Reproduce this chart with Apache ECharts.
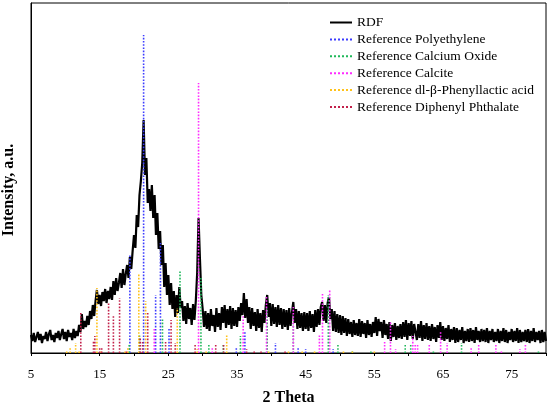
<!DOCTYPE html>
<html>
<head>
<meta charset="utf-8">
<script src="https://cdn.jsdelivr.net/npm/echarts@6/dist/echarts.min.js"></script>
<style>html,body{margin:0;padding:0;background:#fff}#c{width:550px;height:402px}</style>
</head>
<body>
<div id="c"></div>
<script>
// RDF pattern sampled every 0.2 degrees 2θ from 5.0 to 80.0 (intensity, a.u.)
const rdfStart = 5.0;
const rdfStep = 0.2;
const rdfIntensity = [
  18,12,20,11,16,21,13,19,10,17,
  14,21,12,19,23,13,18,11,20,15,
  22,13,19,24,14,21,12,23,16,20,
  13,24,15,22,17,28,21,39,24,32,
  26,37,28,42,34,48,37,52,63,49,
  58,47,61,52,64,50,62,54,66,53,
  72,58,75,62,70,80,65,84,68,79,
  88,75,96,84,102,118,105,138,126,158,
  172,190,233,178,195,150,164,142,168,135,
  158,118,140,104,122,88,108,66,90,58,
  78,48,70,44,62,36,58,40,66,45,
  52,32,47,29,50,34,45,28,49,33,
  52,80,135,95,58,44,26,42,24,40,
  22,44,27,38,21,45,26,40,23,46,
  30,48,25,44,28,47,24,45,27,43,
  26,46,32,50,38,60,35,54,30,46,
  24,45,27,41,22,44,25,40,21,43,
  30,48,58,36,50,27,49,29,46,26,
  48,28,45,24,44,26,43,23,45,27,
  40,51,30,44,24,42,25,40,22,41,
  24,40,22,42,25,39,21,43,26,44,
  28,46,51,32,48,30,50,56,34,44,
  22,42,21,39,20,38,18,37,20,35,
  17,34,19,31,16,33,18,30,17,34,
  16,32,19,30,15,33,18,29,16,31,
  20,36,17,34,22,31,15,33,18,29,
  14,31,12,28,16,30,13,27,15,29,
  14,31,16,33,13,30,17,32,14,29,
  31,13,29,15,32,12,28,14,30,13,
  27,12,29,14,26,11,28,15,31,13,
  27,12,25,14,28,11,24,13,26,10,
  25,11,23,13,26,10,22,12,24,11,
  25,12,23,10,26,13,22,11,24,12,
  23,11,25,10,22,13,24,11,21,12,
  24,10,22,12,25,11,23,10,21,13,
  24,11,22,12,25,10,23,11,21,12,
  23,11,24,10,22,12,25,11,21,13,
  22,10,23,11,21,12
];

// Reference stick patterns: positions (2θ) and relative heights
const pePos = [19.4, 21.4, 23.15, 23.85, 25.1, 34.9, 36.15, 40.6, 43.9, 45.0, 49.0];
const peInt = [98, 318, 58, 110, 25, 6, 22, 10, 6, 4, 4];

const caoPos = [19.3, 20.8, 24.15, 26.7, 29.75, 30.9, 33.0, 35.5, 39.4, 43.2, 48.3, 49.7, 51.8, 54.5, 59.5, 60.3, 63.6, 67.7, 78.9];
const caoInt = [9, 18, 34, 83, 75, 8, 9, 17, 45, 30, 58, 9, 3, 3, 8, 8, 3, 10, 2];

const calPos = [22.95, 29.4, 31.4, 35.9, 39.3, 43.2, 47.0, 47.45, 48.5, 56.5, 57.35, 58.1, 60.6, 60.95, 61.3, 63.0, 64.65, 65.6, 69.1, 70.2, 72.7, 73.5, 76.2, 77.0];
const calInt = [24, 270, 6, 38, 56, 46, 19, 59, 63, 11, 32, 4, 17, 9, 9, 8, 22, 10, 6, 8, 9, 2, 4, 9];

const plaPos = [10.2, 10.7, 11.5, 12.0, 14.6, 15.2, 18.7, 19.1, 20.7, 21.7, 26.3, 29.2, 30.5, 33.5, 39.6, 42.5, 44.5, 46.3, 50.5, 51.8, 55.0];
const plaInt = [3, 5, 10, 2, 65, 3, 3, 5, 79, 52, 45, 4, 3, 19, 2, 2, 2, 2, 2, 3, 2];

const dppPos = [12.25, 14.1, 14.3, 15.0, 15.3, 16.3, 17.0, 17.9, 18.9, 20.9, 21.25, 22.0, 24.6, 25.4, 26.0, 28.9, 31.9, 33.05, 36.4, 37.5, 38.5, 42.0];
const dppInt = [40, 12, 17, 6, 5, 51, 38, 55, 3, 15, 11, 41, 11, 33, 10, 9, 9, 9, 4, 3, 3, 2];

const seriesNames = ['RDF', 'Reference Polyethylene', 'Reference Calcium Oxide', 'Reference Calcite', 'Reference dl-\u03b2-Phenyllactic acid', 'Reference Diphenyl Phthalate'];
const seriesColors = ['#000000', '#3b3bff', '#1fb85a', '#ff2bff', '#ffc21a', '#c2204a'];

const rdfData = rdfIntensity.map((v, i) => [+(rdfStart + i * rdfStep).toFixed(1), v]);

function sticks(pos, ints) {
  const out = [];
  pos.forEach((p, i) => { out.push([p, 0]); out.push([p, ints[i]]); out.push([p, '-']); });
  return out;
}

const FONT = '"Liberation Serif", "DejaVu Serif", serif';

const stickSets = [[pePos, peInt], [caoPos, caoInt], [calPos, calInt], [plaPos, plaInt], [dppPos, dppInt]];

const series = [{
  name: seriesNames[0],
  type: 'line',
  data: rdfData,
  symbol: 'none',
  lineStyle: { color: seriesColors[0], width: 2.2 },
  itemStyle: { color: seriesColors[0] },
  animation: false
}];
stickSets.forEach((s, k) => {
  series.push({
    name: seriesNames[k + 1],
    type: 'line',
    data: sticks(s[0], s[1]),
    symbol: 'none',
    connectNulls: false,
    lineStyle: { color: seriesColors[k + 1], width: 1.6, type: 'dotted' },
    itemStyle: { color: seriesColors[k + 1] },
    animation: false
  });
});

const chart = echarts.init(document.getElementById('c'));
chart.setOption({
  animation: false,
  backgroundColor: '#fff',
  grid: { left: 31, top: 3, right: 4, bottom: 49, containLabel: false, outerBoundsMode: 'none',
    show: true, borderColor: '#000', borderWidth: 1, backgroundColor: 'transparent' },
  legend: {
    orient: 'vertical', left: 324, top: 10.5,
    itemWidth: 22, itemHeight: 12, itemGap: 2.9,
    data: seriesNames,
    itemStyle: { opacity: 0 },
    textStyle: { fontFamily: FONT, fontSize: 13.5, color: '#000' }
  },
  xAxis: {
    type: 'value', min: 5, max: 80, interval: 5,
    name: '2 Theta', nameLocation: 'middle', nameGap: 37,
    nameTextStyle: { fontFamily: FONT, fontSize: 16, fontWeight: 'bold', color: '#000' },
    axisLine: { lineStyle: { color: '#000', width: 1 } },
    axisTick: { show: true, length: 3, lineStyle: { color: '#000' } },
    axisLabel: { fontFamily: FONT, fontSize: 13, color: '#000', margin: 15,
      formatter: v => ((v - 5) % 10 === 0 && v < 80) ? String(v) : '' },
    splitLine: { show: false }
  },
  yAxis: {
    type: 'value', min: 0, max: 350,
    axisLine: { show: true, lineStyle: { color: '#000' } },
    axisTick: { show: false }, axisLabel: { show: false }, splitLine: { show: false }
  },
  graphic: [{
    type: 'text', x: 9, y: 190, rotation: Math.PI / 2,
    style: { text: 'Intensity, a.u.', fontFamily: FONT, fontSize: 16, fontWeight: 'bold', fill: '#000', align: 'center', verticalAlign: 'middle' }
  }],
  series: series
});
</script>
</body>
</html>
